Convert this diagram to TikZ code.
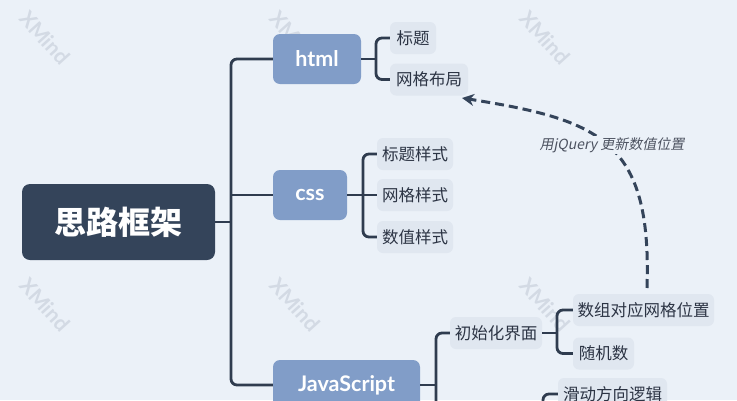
\documentclass[tikz,border=0pt]{standalone}
\usepackage{fontspec}
\setmainfont{Lato}
\newfontfamily\cjk{Noto Sans CJK SC}
\newfontfamily\cjkit[FakeSlant=0.2]{Noto Sans CJK SC}
\usetikzlibrary{arrows.meta}
\definecolor{bgc}{HTML}{EBF1F8}
\definecolor{rootc}{HTML}{34445A}
\definecolor{mainc}{HTML}{819DC8}
\definecolor{subc}{HTML}{E0E7F0}
\definecolor{linec}{HTML}{2F3C4F}
\definecolor{txtc}{HTML}{2C3444}
\definecolor{wmc}{HTML}{D3DAE4}
\tikzset{
  rootbox/.style={fill=rootc, rounded corners=8pt, text=white, font=\cjk\bfseries\fontsize{32}{32}\selectfont, minimum width=193pt, minimum height=76pt, inner sep=0pt},
  mainbox/.style={fill=mainc, rounded corners=7pt, text=white, font=\bfseries\fontsize{21.5}{21.5}\selectfont, minimum height=50pt, inner sep=0pt},
  subbox/.style={fill=subc, rounded corners=6pt, text=txtc, font=\cjk\fontsize{16.5}{16.5}\selectfont, minimum height=32pt, inner sep=0pt},
  conn/.style={draw=linec, line width=2.8pt, rounded corners=6pt},
  wmark/.style={text=wmc, font=\bfseries\fontsize{21}{21}\selectfont, rotate=-48},
}
\begin{document}
\begin{tikzpicture}[x=1pt,y=-1pt]
\useasboundingbox (0,0) rectangle (737,400);
\clip (0,0) rectangle (737,400);
\fill[bgc] (0,0) rectangle (737,400);
% watermarks
\foreach \wx in {45,295,545}{
  \foreach \wy in {38,305}{
    \node[wmark] (wm-\wx-\wy) at (\wx,\wy) {XMind};
  }
}
% nodes
\node[rootbox] (root) at (118.5,222) {思路框架};
\node[mainbox, minimum width=88pt] (html) at (317,59) {html};
\node[mainbox, minimum width=74pt] (css) at (310,195) {css};
\node[mainbox, minimum width=147pt] (js) at (346.5,385) {JavaScript};
\node[subbox, minimum width=46pt] (bt) at (413,38) {标题};
\node[subbox, minimum width=78pt] (wgbj) at (429,79.5) {网格布局};
\node[subbox, minimum width=76pt] (btys) at (415,154) {标题样式};
\node[subbox, minimum width=76pt] (wgys) at (415,195) {网格样式};
\node[subbox, minimum width=76pt] (szys) at (415,237) {数值样式};
\node[subbox, minimum width=92pt] (csh) at (496,333) {初始化界面};
\node[subbox, minimum width=141pt] (szdy) at (643.5,310) {数组对应网格位置};
\node[subbox, minimum width=61pt] (sjs) at (603.5,353.5) {随机数};
\node[subbox, minimum width=109pt] (hd) at (612.5,394) {滑动方向逻辑};
% trunk
\coordinate (tr1) at (231,59);
\coordinate (tr2) at (231,222);
\coordinate (tr3) at (231,195);
\coordinate (tr4) at (231,385);
\draw[conn] (html.west) -- (tr1) -- (tr4) -- (js.west);
\draw[conn] (root.east) -- (tr2);
\draw[conn] (tr3) -- (css.west);
% html bracket
\coordinate (hb1) at (376,38);
\coordinate (hb2) at (376,79.5);
\coordinate (hbm) at (376,59);
\draw[conn] (bt.west) -- (hb1) -- (hb2) -- (wgbj.west);
\draw[conn] (html.east) -- (hbm);
% css bracket
\coordinate (cb1) at (363,154);
\coordinate (cb2) at (363,237);
\draw[conn] (btys.west) -- (cb1) -- (cb2) -- (szys.west);
\draw[conn] (css.east) -- (wgys.west);
% js bracket
\coordinate (jb1) at (436,333);
\coordinate (jb2) at (436,420);
\coordinate (jbm) at (436,385);
\draw[conn] (csh.west) -- (jb1) -- (jb2);
\draw[conn] (js.east) -- (jbm);
% init bracket
\coordinate (ib1) at (557,310);
\coordinate (ib2) at (557,353.5);
\coordinate (ibm) at (557,333);
\draw[conn] (szdy.west) -- (ib1) -- (ib2) -- (sjs.west);
\draw[conn] (csh.east) -- (ibm);
% lower bracket
\coordinate (lb1) at (543,394);
\coordinate (lb2) at (543,420);
\draw[conn] (hd.west) -- (lb1) -- (lb2);
% dashed relation
\coordinate (rs) at (647,288);
\coordinate (re) at (462,98);
\draw[draw=rootc, line width=3pt, dash pattern=on 9pt off 5pt, -{Stealth[length=12pt,width=12pt]}]
  (rs) .. controls (652,140) and (600,120) .. (re);
\node[fill=bgc, inner sep=1pt, text=txtc!85!white, font=\cjkit\fontsize{14}{14}\selectfont] (lbl) at (612,145) {用jQuery 更新数值位置};
\end{tikzpicture}
\end{document}
